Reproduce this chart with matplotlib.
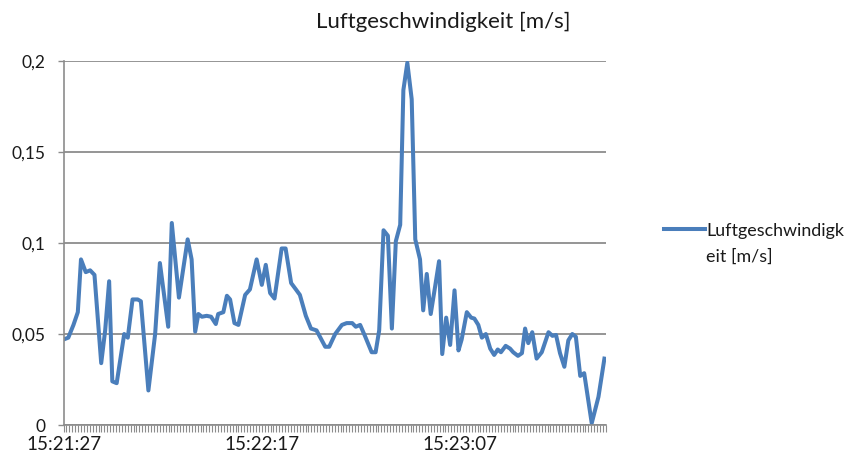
"""
Luftgeschwindigkeit over time, Excel-style line chart.
"""

import matplotlib
matplotlib.use("Agg")
from matplotlib import pyplot as plt
from matplotlib.ticker import FixedLocator, FuncFormatter, MultipleLocator

# seconds after 15:21:27 and measured air speed in m/s
seconds = [0, 1.2, 2.5, 3.6, 4.4, 5.6, 6.7, 7.8, 9.5, 10.5, 11.5, 12.3, 13.4,
           15.3, 16.2, 17.4, 18.7, 19.5, 21.4, 23.1, 24.3, 26.4, 27.3, 29.1,
           31.3, 32.3, 33.2, 34.0, 34.9, 36.1, 37.2, 38.4, 39.0, 40.3, 41.2,
           42.0, 43.1, 44.1, 45.8, 47.0, 48.7, 50.0, 51.0, 52.1, 53.2, 55.0,
           56.0, 57.4, 58.6, 59.6, 61.1, 62.4, 63.8, 66.0, 67.0, 68.5, 70.2,
           71.4, 72.8, 73.7, 74.8, 76.0, 77.7, 78.7, 79.6, 80.7, 81.8, 82.8,
           83.8, 84.9, 85.7, 86.7, 87.8, 88.7, 89.9, 90.7, 91.6, 92.6, 93.7,
           94.7, 95.5, 96.5, 97.5, 98.6, 99.6, 100.4, 101.7, 102.8, 103.6,
           104.6, 105.5, 106.5, 107.6, 108.6, 109.5, 110.3, 111.5, 112.6,
           113.4, 114.6, 115.6, 116.4, 117.2, 118.2, 119.3, 120.6, 122.3,
           123.3, 124.2, 125.2, 126.3, 127.3, 128.3, 129.2, 130.3, 131.3,
           133.2, 134.9, 136.4]
speed = [0.047, 0.048, 0.055, 0.062, 0.091, 0.084, 0.085, 0.0825, 0.034, 0.052,
         0.079, 0.024, 0.023, 0.050, 0.048, 0.069, 0.069, 0.068, 0.019, 0.050,
         0.089, 0.054, 0.111, 0.070, 0.102, 0.091, 0.0513, 0.061, 0.0595, 0.060,
         0.0595, 0.0555, 0.061, 0.062, 0.071, 0.069, 0.056, 0.055, 0.0715,
         0.0745, 0.091, 0.077, 0.088, 0.0725, 0.0695, 0.097, 0.097, 0.078,
         0.0745, 0.0715, 0.060, 0.053, 0.052, 0.043, 0.043, 0.050, 0.055,
         0.056, 0.056, 0.054, 0.055, 0.049, 0.040, 0.040, 0.052, 0.107, 0.104,
         0.053, 0.101, 0.110, 0.184, 0.199, 0.179, 0.102, 0.091, 0.063, 0.083,
         0.061, 0.076, 0.090, 0.039, 0.059, 0.044, 0.074, 0.041, 0.047, 0.062,
         0.059, 0.0585, 0.055, 0.048, 0.050, 0.042, 0.0385, 0.0415, 0.040,
         0.0435, 0.042, 0.040, 0.038, 0.0395, 0.053, 0.045, 0.051, 0.0365,
         0.040, 0.051, 0.049, 0.0495, 0.0395, 0.032, 0.0465, 0.050, 0.0485,
         0.027, 0.0285, 0.001, 0.0155, 0.0365]

time_ticks = [0, 50, 100]
time_labels = ["15:21:27", "15:22:17", "15:23:07"]
y_ticks = [0, 0.05, 0.1, 0.15, 0.2]
# Excel wrapped the series name inside the legend
legend_lines = ["Luftgeschwindigk", "eit [m/s]"]

FONT = "Lato"
BLUE = "#4a7ebb"
GRID = "#8c8c8c"
TEXT = "#1a1a1a"


def comma_fmt(v, pos):
    return f"{v:g}".replace(".", ",")


def main():
    plt.rcParams["font.family"] = FONT
    fig = plt.figure(figsize=(8.54, 4.62), dpi=100)
    ax = fig.add_axes([0.0744, 0.080, 0.6352, 0.788])

    ax.plot(seconds, speed, color=BLUE, lw=2.9, solid_joinstyle="round",
            label=legend_lines[0])

    ax.set_xlim(0, 136.8)
    ax.set_ylim(0, 0.2)
    ax.yaxis.set_major_locator(FixedLocator(y_ticks))
    ax.yaxis.set_major_formatter(FuncFormatter(comma_fmt))
    ax.xaxis.set_major_locator(FixedLocator(time_ticks))
    ax.xaxis.set_major_formatter(FuncFormatter(lambda v, p: time_labels[p]))
    ax.xaxis.set_minor_locator(MultipleLocator(50 / 68))

    ax.grid(axis="y", color=GRID, lw=1.3)
    ax.set_axisbelow(True)
    for side in ("top", "right"):
        ax.spines[side].set_visible(False)
    for side in ("left", "bottom"):
        ax.spines[side].set_color(GRID)
        ax.spines[side].set_linewidth(1.2)

    ax.tick_params(axis="both", which="both", color=GRID, labelcolor=TEXT)
    ax.tick_params(axis="x", which="both", length=5, width=0.8, pad=3,
                   labelsize=13.5)
    ax.tick_params(axis="y", length=4, width=1, pad=9, labelsize=12.5)

    fig.text(0.519, 0.952, "Luftgeschwindigkeit [m/s]", ha="center",
             va="center", fontsize=16, color=TEXT)

    leg = ax.legend(loc="upper left", bbox_to_anchor=(0.7775, 0.518),
                    bbox_transform=fig.transFigure, frameon=False,
                    fontsize=12.9, handlelength=2.3, handletextpad=0.05,
                    borderpad=0, borderaxespad=0, labelcolor=TEXT)

    # second line of the wrapped legend label, under the first one
    fig.canvas.draw()
    first = leg.get_texts()[0].get_window_extent().transformed(
        fig.transFigure.inverted())
    fig.text(first.x0, first.y0 - 0.022, legend_lines[1], ha="left",
             va="top", fontsize=12.9, color=TEXT)

    fig.savefig("out.png", dpi=100)


if __name__ == "__main__":
    main()
